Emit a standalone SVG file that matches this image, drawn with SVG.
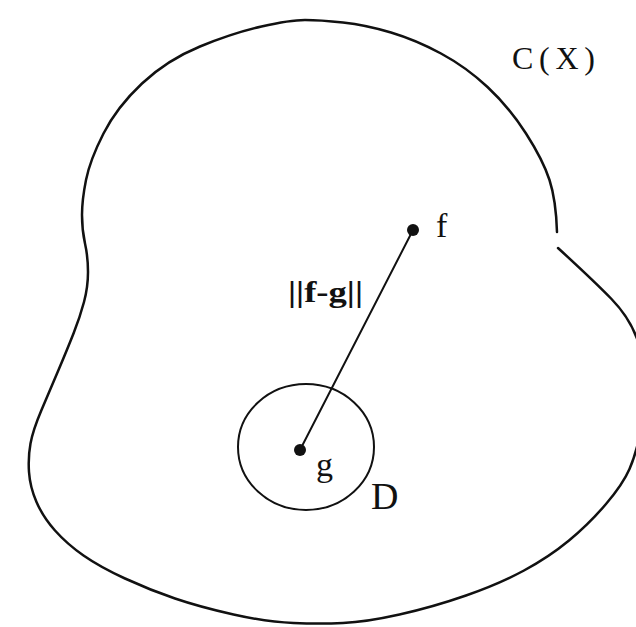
<svg xmlns="http://www.w3.org/2000/svg" width="636" height="627" viewBox="0 0 636 627">
<style>
.ln{fill:none;stroke:#111;stroke-width:2.5;stroke-linecap:round;stroke-linejoin:round}
.thin{fill:none;stroke:#111;stroke-width:2;stroke-linecap:round}
.dot{fill:#111}
.t{font-family:"Liberation Serif","Times New Roman",serif;fill:#111}
</style>
<rect width="636" height="627" fill="#fff"/>
<g id="region-CX">
<path class="ln" d="M558 248 Q594 281 611.5 299 Q629 317 637 338.5 Q645 360 645 385 Q645 410 640.5 432 Q636 454 629.5 469 Q623 484 606 504 Q589 524 569 540.5 Q549 557 524 570.5 Q499 584 466 595.5 Q433 607 399.5 614.5 Q366 622 343 623 Q320 624 293.5 623 Q267 622 233.5 614.5 Q200 607 175 598.5 Q150 590 125 578.5 Q100 567 83.5 555.5 Q67 544 55 530.5 Q43 517 36.5 502 Q30 487 29 472 Q28 457 30.5 443.5 Q33 430 41.5 410 Q50 390 58.5 370 Q67 350 73.5 333.5 Q80 317 84 302 Q88 287 88 272 Q88 257 85 243.5 Q82 230 82 215 Q82 200 86 180 Q90 160 103.5 133.5 Q117 107 142 83.5 Q167 60 200 46.5 Q233 33 261.5 26.5 Q290 20 305 20 Q320 20 343 22.5 Q366 25 391 32.5 Q416 40 441 53.5 Q466 67 487.5 87 Q509 107 526 133.5 Q543 160 549.5 180 Q556 200 557 232"/>
<text class="t" x="512" y="69" font-size="32" textLength="83" lengthAdjust="spacing">C(X)</text>
</g>
<g id="disk-D">
<ellipse class="thin" cx="306" cy="447" rx="68" ry="63"/>
<text class="t" x="371" y="509" font-size="38">D</text>
</g>
<g id="connectors">
<line class="thin" x1="413" y1="230" x2="300" y2="450"/>
<text class="t" x="288" y="302" font-size="30" font-weight="bold" textLength="75" lengthAdjust="spacingAndGlyphs">||f-g||</text>
</g>
<g id="point-f">
<circle class="dot" cx="413" cy="230" r="6"/>
<text class="t" x="436" y="237" font-size="34">f</text>
</g>
<g id="point-g">
<circle class="dot" cx="300" cy="450" r="6"/>
<text class="t" x="316" y="476" font-size="34">g</text>
</g>
</svg>
